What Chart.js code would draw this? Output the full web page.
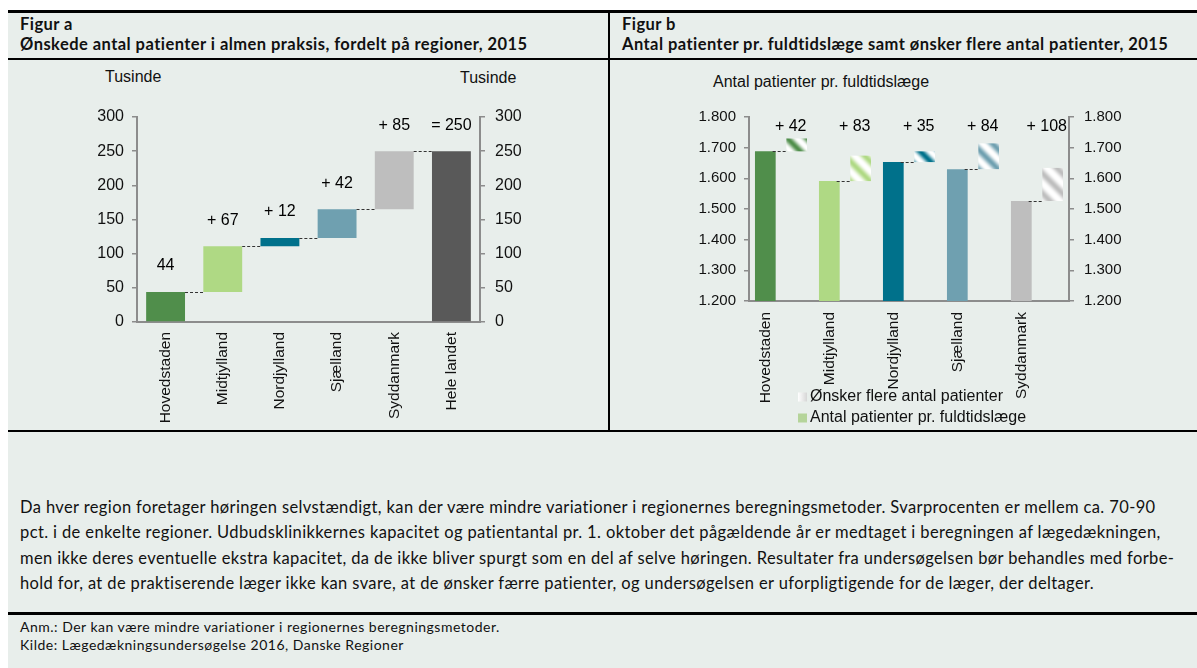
<!DOCTYPE html>
<html lang="da">
<head>
<meta charset="UTF-8">
<title>Figur a og b</title>
<script src="https://cdn.jsdelivr.net/npm/chart.js"></script>
<style>
  body { margin: 0; background: #fff; width: 1197px; height: 668px; overflow: hidden; position: relative; }
  #frame { position: absolute; left: 8px; top: 10px; width: 1189px; height: 658px; background: #e8eeeb; }
  .rule { position: absolute; background: #000; }
  .hdr { position: absolute; top: 14px; font: bold 16.5px Lato, sans-serif; letter-spacing: 0.45px; line-height: 20px; color: #111; white-space: nowrap; }
  .unit { position: absolute; font: 16px "Liberation Sans", Arial, sans-serif; line-height: 18px; color: #111; white-space: nowrap; }
  .txt { position: absolute; left: 20px; font: 16.5px Lato, sans-serif; letter-spacing: 0.38px; color: #111; white-space: nowrap; }
  canvas { position: absolute; }
</style>
</head>
<body>
<div id="frame"></div>
<div class="rule" style="left:8px;top:10px;width:1189px;height:3px"></div>
<div class="rule" style="left:8px;top:58px;width:1189px;height:2px"></div>
<div class="rule" style="left:608px;top:12px;width:2px;height:420px"></div>
<div class="rule" style="left:8px;top:430px;width:1189px;height:2px"></div>
<div class="rule" style="left:8px;top:612px;width:1189px;height:3px"></div>

<div class="hdr" style="left:20px">Figur a<br>Ønskede antal patienter i almen praksis, fordelt på regioner, 2015</div>
<div class="hdr" style="left:622px">Figur b<br>Antal patienter pr. fuldtidslæge samt ønsker flere antal patienter, 2015</div>

<div class="unit" style="left:105px;top:68px">Tusinde</div>
<div class="unit" style="left:460px;top:69px">Tusinde</div>
<div class="unit" style="left:713px;top:73px">Antal patienter pr. fuldtidslæge</div>

<canvas id="chartA" width="600" height="369" style="left:8px;top:61px"></canvas>
<canvas id="chartB" width="587" height="369" style="left:610px;top:61px"></canvas>

<div class="txt" style="top:495px;line-height:25.3px">
Da hver region foretager høringen selvstændigt, kan der være mindre variationer i regionernes beregningsmetoder. Svarprocenten er mellem ca. 70-90<br>
pct. i de enkelte regioner. Udbudsklinikkernes kapacitet og patientantal pr. 1. oktober det pågældende år er medtaget i beregningen af lægedækningen,<br>
men ikke deres eventuelle ekstra kapacitet, da de ikke bliver spurgt som en del af selve høringen. Resultater fra undersøgelsen bør behandles med forbe-<br>
hold for, at de praktiserende læger ikke kan svare, at de ønsker færre patienter, og undersøgelsen er uforpligtigende for de læger, der deltager.
</div>
<div class="txt" style="top:618px;font-size:14px;letter-spacing:0.5px;line-height:18px">
Anm.: Der kan være mindre variationer i regionernes beregningsmetoder.<br>
Kilde: Lægedækningsundersøgelse 2016, Danske Regioner
</div>

<script>
// Figur a
const regionsA = ['Hovedstaden', 'Midtjylland', 'Nordjylland', 'Sjælland', 'Syddanmark', 'Hele landet'];
const increasesA = [44, 67, 12, 42, 85];
const totalA = 250;
const labelsA = ['44', '+ 67', '+ 12', '+ 42', '+ 85', '= 250'];
const ticksA = [0, 50, 100, 150, 200, 250, 300];

// Figur b
const regionsB = ['Hovedstaden', 'Midtjylland', 'Nordjylland', 'Sjælland', 'Syddanmark'];
const patientsPerDoctor = [1688, 1591, 1653, 1630, 1526];
const wantMore = [42, 83, 35, 84, 108];
const ticksB = [1200, 1300, 1400, 1500, 1600, 1700, 1800];

const colors = ['#508e4b', '#afd984', '#00718b', '#6fa0b0', '#bebebe', '#595959'];
const axisGrey = '#8c8c8c';

Chart.defaults.font.family = '"Liberation Sans", Arial, sans-serif';
Chart.defaults.color = '#111';

// waterfall: each bar floats from the running total
let run = 0;
const barsA = increasesA.map(v => { const r = [run, run + v]; run += v; return r; });
barsA.push([0, totalA]);

function dkNumber(v) {
    return String(v).replace(/\B(?=(\d{3})+(?!\d))/g, '.');
}

// diagonal white/colour stripes for the "ønsker flere" bars
function stripes(hex) {
    const n = 20;
    const c = document.createElement('canvas');
    c.width = c.height = n;
    const g = c.getContext('2d');
    const img = g.createImageData(n, n);
    const r = parseInt(hex.substr(1, 2), 16), gr = parseInt(hex.substr(3, 2), 16), b = parseInt(hex.substr(5, 2), 16);
    for (let y = 0; y < n; y++) {
        for (let x = 0; x < n; x++) {
            const d = (((x - y) % n) + n) % n / n;
            let t = 0.5 + 0.5 * Math.cos(2 * Math.PI * d);
            t = Math.pow(t, 1.3);
            const i = (y * n + x) * 4;
            img.data[i] = 255 + (r - 255) * t;
            img.data[i + 1] = 255 + (gr - 255) * t;
            img.data[i + 2] = 255 + (b - 255) * t;
            img.data[i + 3] = 255;
        }
    }
    g.putImageData(img, 0, 0);
    return g.createPattern(c, 'repeat');
}

function yAxis(min, max, ticks, pos, width, pad, size, fmt) {
    return {
        position: pos, min: min, max: max,
        afterBuildTicks(s) { s.ticks = ticks.map(v => ({ value: v })); },
        grid: { drawOnChartArea: false, tickLength: 5, color: axisGrey, lineWidth: 1.5 },
        border: { color: axisGrey, width: 2 },
        ticks: { padding: pad, color: '#111', font: { size: size }, callback: fmt },
        afterFit(s) { s.width = width; }
    };
}

const waterfallExtras = {
    id: 'waterfallExtras',
    afterDatasetsDraw(chart) {
        const ctx = chart.ctx;
        const meta = chart.getDatasetMeta(0);
        const y = chart.scales.y;
        ctx.save();
        // dashed connectors
        ctx.strokeStyle = '#333';
        ctx.lineWidth = 1;
        ctx.setLineDash([3, 2]);
        for (let i = 0; i < meta.data.length - 1; i++) {
            const a = meta.data[i], b = meta.data[i + 1];
            const py = Math.round(y.getPixelForValue(barsA[i][1])) + 0.5;
            ctx.beginPath();
            ctx.moveTo(a.x + a.width / 2, py);
            ctx.lineTo(b.x - b.width / 2, py);
            ctx.stroke();
        }
        ctx.setLineDash([]);
        // value labels
        ctx.fillStyle = '#000';
        ctx.font = '16px "Liberation Sans", Arial, sans-serif';
        ctx.textAlign = 'center';
        ctx.textBaseline = 'middle';
        meta.data.forEach((el, i) => {
            ctx.fillText(labelsA[i], el.x, y.getPixelForValue(barsA[i][1]) - 26);
        });
        ctx.restore();
    }
};

new Chart(document.getElementById('chartA'), {
    type: 'bar',
    data: {
        labels: regionsA,
        datasets: [{
            data: barsA,
            backgroundColor: colors,
            barPercentage: 0.68,
            categoryPercentage: 1,
            borderSkipped: false
        }]
    },
    options: {
        responsive: false,
        animation: false,
        layout: { padding: { left: 69, right: 68, top: 56, bottom: 0 } },
        plugins: { legend: { display: false }, tooltip: { enabled: false } },
        scales: {
            x: {
                grid: { display: false, drawTicks: false },
                border: { color: axisGrey, width: 2 },
                ticks: { maxRotation: 90, minRotation: 90, autoSkip: false, padding: 10, color: '#111', font: { size: 15.5 } },
                afterFit(s) { s.height = 108; }
            },
            y: yAxis(0, 300, ticksA, 'left', 60, 8, 16),
            y2: yAxis(0, 300, ticksA, 'right', 60, 10, 16)
        }
    },
    plugins: [waterfallExtras]
});

const stripePatterns = colors.slice(0, 5).map(stripes);

const doctorExtras = {
    id: 'doctorExtras',
    afterDatasetsDraw(chart) {
        const ctx = chart.ctx;
        const main = chart.getDatasetMeta(0).data;
        const extra = chart.getDatasetMeta(1).data;
        const y = chart.scales.y;
        const area = chart.chartArea;
        ctx.save();
        ctx.strokeStyle = '#333';
        ctx.lineWidth = 1;
        ctx.setLineDash([3, 2]);
        main.forEach((el, i) => {
            const py = Math.round(y.getPixelForValue(patientsPerDoctor[i])) + 0.5;
            ctx.beginPath();
            ctx.moveTo(el.x + el.width / 2 - 3, py);
            ctx.lineTo(extra[i].x - extra[i].width / 2, py);
            ctx.stroke();
        });
        ctx.setLineDash([]);
        ctx.fillStyle = '#000';
        ctx.font = '16px "Liberation Sans", Arial, sans-serif';
        ctx.textAlign = 'center';
        ctx.textBaseline = 'middle';
        extra.forEach((el, i) => {
            ctx.fillText('+ ' + wantMore[i], el.x - 6, area.top + 10);
        });
        // region names under the main bars
        ctx.fillStyle = '#111';
        ctx.font = '15.5px "Liberation Sans", Arial, sans-serif';
        ctx.textAlign = 'right';
        main.forEach((el, i) => {
            ctx.save();
            ctx.translate(el.x, area.bottom + 11);
            ctx.rotate(-Math.PI / 2);
            ctx.fillText(regionsB[i], 0, 0);
            ctx.restore();
        });
        // legend
        const lx = 188;
        const items = [
            { label: chart.data.datasets[1].label, y: 336 },
            { label: chart.data.datasets[0].label, y: 357 }
        ];
        const g = ctx.createLinearGradient(lx, 0, lx + 9, 0);
        g.addColorStop(0, '#ffffff');
        g.addColorStop(1, '#d6d6d6');
        ctx.fillStyle = g;
        ctx.fillRect(lx, items[0].y - 4.5, 9, 9);
        ctx.fillStyle = '#b5d49a';
        ctx.fillRect(lx, items[1].y - 4.5, 9, 9);
        ctx.fillStyle = '#111';
        ctx.font = '16px "Liberation Sans", Arial, sans-serif';
        ctx.textAlign = 'left';
        items.forEach(it => ctx.fillText(it.label, lx + 12, it.y));
        ctx.restore();
    }
};

new Chart(document.getElementById('chartB'), {
    type: 'bar',
    data: {
        labels: regionsB,
        datasets: [{
            label: 'Antal patienter pr. fuldtidslæge',
            data: patientsPerDoctor,
            backgroundColor: colors.slice(0, 5),
            barPercentage: 0.66,
            categoryPercentage: 0.98
        }, {
            label: 'Ønsker flere antal patienter',
            data: patientsPerDoctor.map((p, i) => [p, p + wantMore[i]]),
            backgroundColor: stripePatterns,
            barPercentage: 0.66,
            categoryPercentage: 0.98,
            borderSkipped: false
        }]
    },
    options: {
        responsive: false,
        animation: false,
        layout: { padding: { left: 69, right: 58, top: 56, bottom: 0 } },
        plugins: { legend: { display: false }, tooltip: { enabled: false } },
        scales: {
            x: {
                grid: { display: false, drawTicks: false },
                border: { color: axisGrey, width: 2 },
                ticks: { display: false },
                afterFit(s) { s.height = 129; }
            },
            y: yAxis(1200, 1800, ticksB, 'left', 70, 8, 15, dkNumber),
            y2: yAxis(1200, 1800, ticksB, 'right', 70, 10, 15, dkNumber)
        }
    },
    plugins: [doctorExtras]
});
</script>
</body>
</html>
